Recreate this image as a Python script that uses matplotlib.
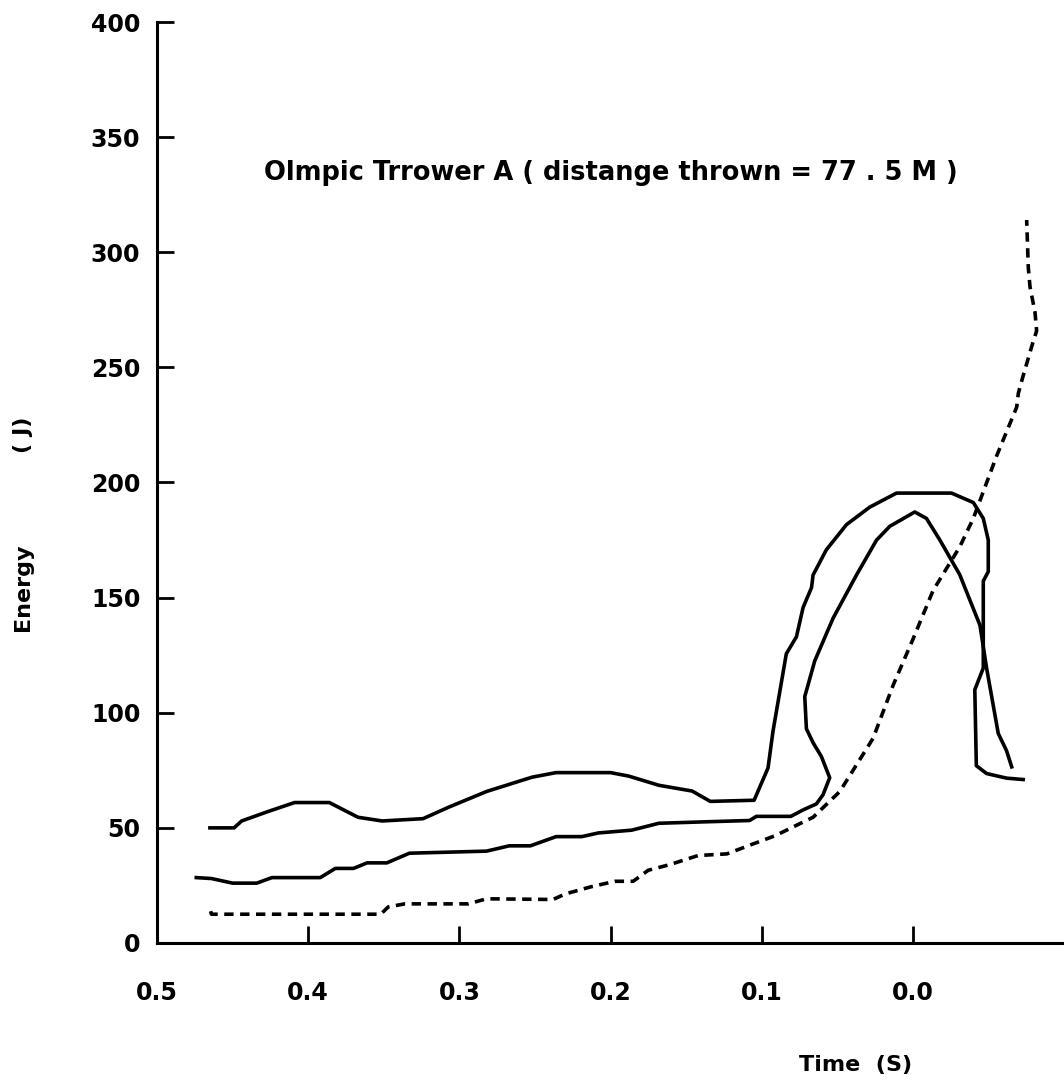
import matplotlib
matplotlib.use("Agg")
import matplotlib.pyplot as plt

# ---- data ----
t_upper = [0.465, 0.449, 0.444, 0.427, 0.409, 0.386, 0.367, 0.351, 0.324, 0.307,
           0.282, 0.252, 0.236, 0.200, 0.188, 0.168, 0.146, 0.134, 0.105, 0.0958,
           0.0925, 0.0837, 0.077, 0.0726, 0.067, 0.066, 0.0572, 0.0439, 0.0285, 0.0108,
           -0.0256, -0.040, -0.0466, -0.0499, -0.0499, -0.0466, -0.0466, -0.041, -0.042,
           -0.0488, -0.062, -0.073]
e_upper = [50, 50, 53, 57, 61, 61, 54.6, 53, 54, 59,
           65.8, 72, 74, 74, 72.5, 68.5, 66, 61.5, 62, 76,
           92, 125.6, 133, 145.7, 154.4, 159.8, 170.8, 181.7, 189.3, 195.4,
           195.4, 191.3, 184.4, 175, 161.3, 157.2, 119.4, 110, 77,
           73.6, 71.6, 71]

t_middle = [0.474, 0.464, 0.450, 0.434, 0.424, 0.392, 0.382, 0.370, 0.361, 0.348,
            0.333, 0.282, 0.267, 0.253, 0.236, 0.219, 0.208, 0.186, 0.168, 0.139,
            0.108, 0.1035, 0.0807, 0.0726, 0.0638, 0.0594, 0.055, 0.0605, 0.066, 0.0704,
            0.0715, 0.0649, 0.0528, 0.0373, 0.024, 0.0152, -0.0013, -0.009, -0.0179,
            -0.031, -0.0444, -0.0488, -0.0565, -0.062, -0.0654]
e_middle = [28.4, 28, 26, 26, 28.4, 28.4, 32.4, 32.4, 34.8, 34.8,
            39, 39.9, 42.2, 42.2, 46.2, 46.2, 47.8, 49, 52, 52.6,
            53.2, 55, 55, 57.8, 60.4, 64.4, 71.8, 81, 87, 93,
            107, 122.5, 141, 159.8, 175, 181, 187.2, 184.4, 175,
            160, 138, 119.4, 91, 83.5, 76.5]

t_dashed = [0.4645, 0.464, 0.352, 0.347, 0.336, 0.294, 0.282, 0.238, 0.230, 0.213,
            0.197, 0.185, 0.175, 0.161, 0.142, 0.123, 0.107, 0.0907, 0.0764, 0.066,
            0.0483, 0.0263, 0.013, 0.0, -0.0134, -0.031, -0.040, -0.0554, -0.0687,
            -0.0698, -0.073, -0.0786, -0.0819, -0.0808, -0.0775, -0.0764, -0.0753]
e_dashed = [13.8, 12.5, 12.5, 15.7, 17, 17, 19.2, 18.9, 21.3, 24.4,
            26.8, 26.8, 31.6, 34, 38, 38.7, 42.7, 46.7, 51.3, 54.6,
            65.8, 88.9, 112, 131.8, 153.1, 172, 184.4, 211.5, 232.7,
            238.8, 246.4, 259, 265.9, 274, 285, 293.2, 314]

x_ticks = [0.5, 0.4, 0.3, 0.2, 0.1, 0.0]
x_tick_labels = ["0.5", "0.4", "0.3", "0.2", "0.1", "0.0"]
y_ticks = [0, 50, 100, 150, 200, 250, 300, 350, 400]

title_text = "Olmpic Trrower A ( distange thrown = 77 . 5 M )"
x_label = "Time  (S)"
y_label_a = "Energy"
y_label_b = "( J)"

# ---- figure ----
W, H = 1064, 1084
fig = plt.figure(figsize=(W / 100, H / 100), dpi=100)
ax = fig.add_axes([157 / W, 1 - 943 / H, 1 - 157 / W, (943 - 22) / H])

FONT = "DejaVu Sans"
lw = 2.6
ax.plot(t_upper, e_upper, color="black", lw=lw, solid_joinstyle="round")
ax.plot(t_middle, e_middle, color="black", lw=lw, solid_joinstyle="round")
ax.plot(t_dashed, e_dashed, color="black", lw=lw, linestyle=(0, (2.6, 1.8)))

ax.set_xlim(0.5, -0.1)
ax.set_ylim(0, 400)
ax.set_xticks(x_ticks)
ax.set_xticklabels(x_tick_labels)
ax.set_yticks(y_ticks)

for s in ["top", "right"]:
    ax.spines[s].set_visible(False)
for s in ["left", "bottom"]:
    ax.spines[s].set_linewidth(2.2)

ax.tick_params(axis="both", direction="in", length=12, width=2.0)
ax.tick_params(axis="y", pad=12)
ax.tick_params(axis="x", pad=27)
for lab in ax.get_xticklabels() + ax.get_yticklabels():
    lab.set_fontfamily(FONT)
    lab.set_fontweight("bold")
    lab.set_fontsize(17)

fig.text(611 / W, 1 - 173 / H, title_text, ha="center", va="center",
         fontsize=18.5, fontweight="bold", family=FONT)
fig.text(856 / W, 1 - 1065 / H, x_label, ha="center", va="center",
         fontsize=16, fontweight="bold", family=FONT)
fig.text(23 / W, 1 - 587 / H, y_label_a, ha="center", va="center", rotation=90,
         fontsize=16, fontweight="bold", family=FONT)
fig.text(23 / W, 1 - 435 / H, y_label_b, ha="center", va="center", rotation=90,
         fontsize=16, fontweight="bold", family=FONT)

fig.savefig("out.png", dpi=100, facecolor="white")
